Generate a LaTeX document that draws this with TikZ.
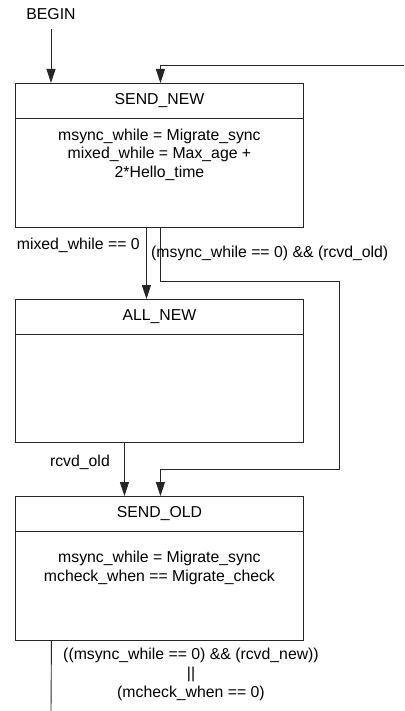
\documentclass[tikz,border=0pt]{standalone}
\usepackage{fontspec}
\setmainfont{Liberation Sans}
\usetikzlibrary{arrows.meta}

\begin{document}
\begin{tikzpicture}[x=1pt,y=-1pt,font=\fontsize{15.8}{18.5}\selectfont,>={Triangle[width=9pt,length=14pt]},
 state/.style={draw=black!85,line width=0.9pt,minimum width=288pt,minimum height=144pt,inner sep=0pt,anchor=north west},
 wire/.style={draw=black!85,line width=0.9pt},
 body/.style={align=center,inner sep=0pt}]
\useasboundingbox (0,0) rectangle (404,711);
\node (begin) at (51,14) {BEGIN};
\node[state] (sendnew) at (15,83) {};
\node[state,minimum height=143pt] (allnew) at (15,299) {};
\node[state] (sendold) at (15,496) {};
\foreach \b in {sendnew,allnew,sendold}
  \draw[wire] ([yshift=-35.5pt]\b.north west) -- ([yshift=-35.5pt]\b.north east);
\node (tnew) at ([yshift=-17.5pt]sendnew.north) {SEND\_NEW};
\node (tall) at ([yshift=-18pt]allnew.north) {ALL\_NEW};
\node (told) at ([yshift=-17.5pt]sendold.north) {SEND\_OLD};
\node[body] (bnew) at ([yshift=-71.5pt]sendnew.north) {msync\_while = Migrate\_sync\\mixed\_while = Max\_age +\\2*Hello\_time};
\node[body] (bold) at ([yshift=-72pt]sendold.north) {msync\_while = Migrate\_sync\\mcheck\_when == Migrate\_check};
\coordinate (back) at (404,65);
\coordinate (exit) at (51,711);
\draw[wire,->,shorten <=6pt] (begin.south) -- (begin |- sendnew.north);
\draw[wire,->] (back) -| ([xshift=1pt]sendnew.north);
\draw[wire,->] ([xshift=-13pt]sendnew.south) -- ([xshift=-13pt]allnew.north);
\draw[wire,->] ([xshift=1pt]sendnew.south) -- ++(0,54) -| ++(179,188) -| ([xshift=1pt]sendold.north);
\draw[wire,->] ([xshift=-35pt]allnew.south) -- ([xshift=-35pt]sendold.north);
\draw[wire] ([xshift=-108pt]sendold.south) -- (exit);
\node[anchor=east,inner sep=1pt] (lmixed) at (141,245) {mixed\_while == 0};
\node[anchor=west,inner sep=1pt] (lsync) at (150,253) {(msync\_while == 0) \&\& (rcvd\_old)};
\node[anchor=east,inner sep=1pt] (lold) at (111,462) {rcvd\_old};
\node[body,font=\fontsize{15.8}{19}\selectfont] (lexit) at (191,674) {((msync\_while == 0) \&\& (rcvd\_new))\\||\\(mcheck\_when == 0)};
\end{tikzpicture}
\end{document}
